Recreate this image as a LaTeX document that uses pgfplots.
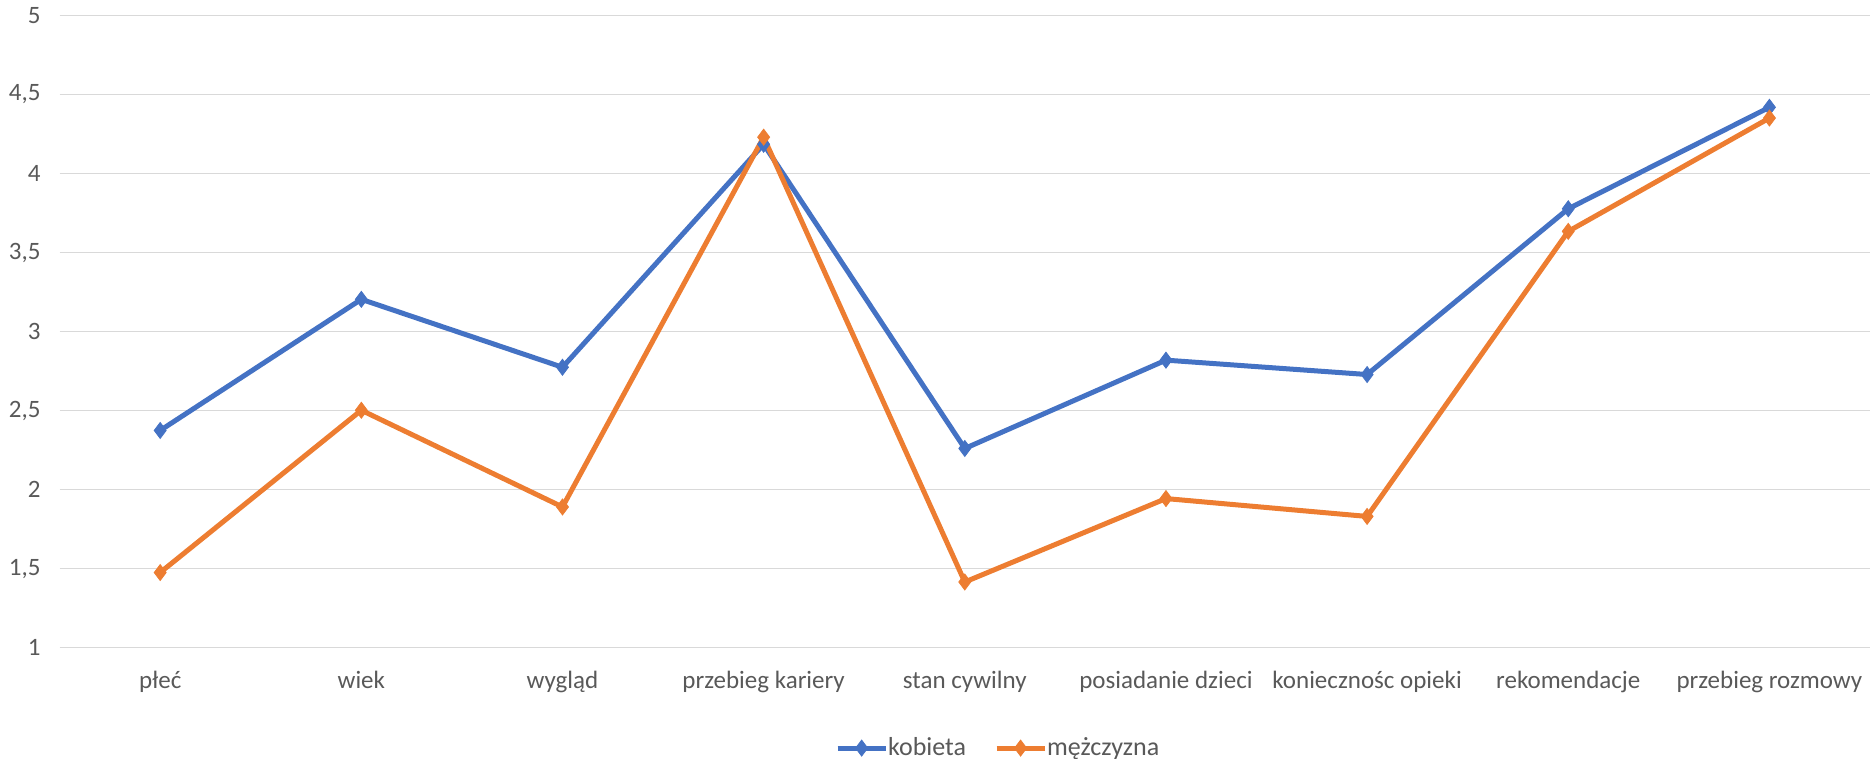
\documentclass[border=0pt]{standalone}
\usepackage{pgfplots}
\pgfplotsset{compat=1.18}
\usepackage{fontspec}
\setmainfont{Carlito}
\definecolor{cblue}{HTML}{4472C4}
\definecolor{corange}{HTML}{ED7D31}
\definecolor{cgrid}{HTML}{D9D9D9}
\definecolor{ctext}{HTML}{595959}
\begin{document}
\begin{tikzpicture}
\useasboundingbox (0,0) rectangle (935pt,379.5pt);
\begin{axis}[
  at={(29.8pt,55.7pt)}, anchor=south west,
  scale only axis, width=905.2pt, height=316.05pt,
  xmin=-0.5, xmax=8.5, ymin=1, ymax=5,
  ytick={1,1.5,...,5},
  xtick={0,...,8},
  xticklabels={płeć,wiek,wygląd,przebieg kariery,stan cywilny,posiadanie dzieci,koniecznośc opieki,rekomendacje,przebieg rozmowy},
  axis line style={draw=none},
  major tick length=0pt,
  ymajorgrids, grid style={cgrid, line width=0.8pt},
  tick label style={font=\fontsize{12.5}{14}\selectfont, text=ctext},
  /pgf/number format/assume math mode=true,
  /pgf/number format/use comma,
  /pgf/number format/fixed,
  /pgf/number format/precision=1,
  yticklabel style={anchor=east, xshift=-6pt},
  xticklabel style={yshift=-8pt},
  legend style={draw=none, at={(0.519,-0.159)}, anchor=center, legend columns=2,
    font=\fontsize{13}{15}\selectfont, text=ctext,
    /tikz/every even column/.append style={column sep=12pt},
    /tikz/every odd column/.append style={column sep=-2pt}},
  legend cell align=left,
  legend image code/.code={\draw[#1, mark repeat=2, mark phase=2] plot coordinates {(0pt,0pt) (12pt,0pt) (24pt,0pt)};},
]
\addplot[cblue, line width=2.5pt, mark=diamond*, mark size=4pt, mark options={fill=cblue, line width=0.4pt}] coordinates {
(0,2.374) (1,3.204) (2,2.774) (3,4.185) (4,2.26) (5,2.819) (6,2.728) (7,3.777) (8,4.419)};
\addlegendentry{kobieta}
\addplot[corange, line width=2.5pt, mark=diamond*, mark size=4pt, mark options={fill=corange, line width=0.4pt}] coordinates {
(0,1.475) (1,2.502) (2,1.89) (3,4.23) (4,1.415) (5,1.943) (6,1.83) (7,3.634) (8,4.351)};
\addlegendentry{mężczyzna}
\end{axis}
\end{tikzpicture}
\end{document}
